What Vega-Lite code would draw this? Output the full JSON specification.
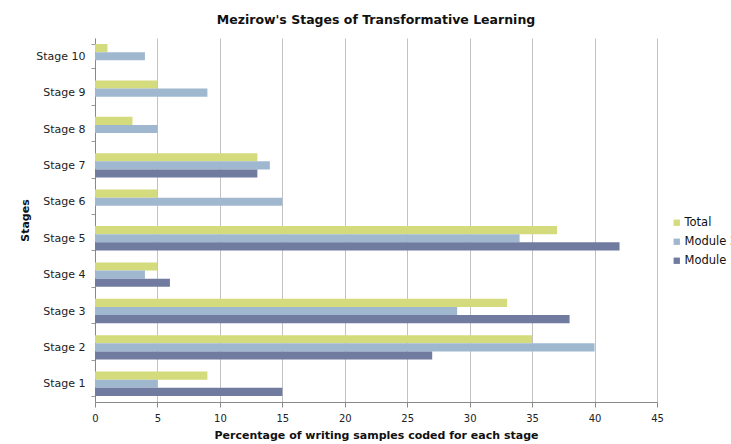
{
  "$schema": "https://vega.github.io/schema/vega-lite/v6.json",
  "width": 562,
  "height": 364,
  "autosize": {"type": "none"},
  "padding": {"left": 95, "top": 38, "right": 74, "bottom": 42},
  "background": "white",
  "title": {
    "text": "Mezirow's Stages of Transformative Learning",
    "font": "DejaVu Sans",
    "fontSize": 12.5,
    "fontWeight": "bold",
    "color": "#111111",
    "offset": 6,
    "anchor": "middle",
    "frame": "group"
  },
  "data": {
    "values": [
      {"stage": "Stage 10", "series": "Total", "value": 1},
      {"stage": "Stage 10", "series": "Module 2", "value": 4},
      {"stage": "Stage 9", "series": "Total", "value": 5},
      {"stage": "Stage 9", "series": "Module 2", "value": 9},
      {"stage": "Stage 8", "series": "Total", "value": 3},
      {"stage": "Stage 8", "series": "Module 2", "value": 5},
      {"stage": "Stage 7", "series": "Total", "value": 13},
      {"stage": "Stage 7", "series": "Module 2", "value": 14},
      {"stage": "Stage 7", "series": "Module 1", "value": 13},
      {"stage": "Stage 6", "series": "Total", "value": 5},
      {"stage": "Stage 6", "series": "Module 2", "value": 15},
      {"stage": "Stage 5", "series": "Total", "value": 37},
      {"stage": "Stage 5", "series": "Module 2", "value": 34},
      {"stage": "Stage 5", "series": "Module 1", "value": 42},
      {"stage": "Stage 4", "series": "Total", "value": 5},
      {"stage": "Stage 4", "series": "Module 2", "value": 4},
      {"stage": "Stage 4", "series": "Module 1", "value": 6},
      {"stage": "Stage 3", "series": "Total", "value": 33},
      {"stage": "Stage 3", "series": "Module 2", "value": 29},
      {"stage": "Stage 3", "series": "Module 1", "value": 38},
      {"stage": "Stage 2", "series": "Total", "value": 35},
      {"stage": "Stage 2", "series": "Module 2", "value": 40},
      {"stage": "Stage 2", "series": "Module 1", "value": 27},
      {"stage": "Stage 1", "series": "Total", "value": 9},
      {"stage": "Stage 1", "series": "Module 2", "value": 5},
      {"stage": "Stage 1", "series": "Module 1", "value": 15}
    ]
  },
  "mark": {"type": "bar"},
  "encoding": {
    "y": {
      "field": "stage",
      "type": "nominal",
      "sort": ["Stage 10", "Stage 9", "Stage 8", "Stage 7", "Stage 6", "Stage 5", "Stage 4", "Stage 3", "Stage 2", "Stage 1"],
      "scale": {"paddingInner": 0.33, "paddingOuter": 0.165},
      "axis": {
        "title": "Stages",
        "titleFont": "DejaVu Sans",
        "titleFontSize": 11,
        "titleFontWeight": "bold",
        "titleColor": "#111111",
        "titlePadding": 5,
        "labelFont": "DejaVu Sans",
        "labelFontSize": 11,
        "labelColor": "#222222",
        "labelPadding": 6,
        "tickSize": 4,
        "tickColor": "#999999",
        "tickBand": "extent",
        "domainColor": "#888888",
        "grid": false
      }
    },
    "yOffset": {
      "field": "series",
      "sort": ["Total", "Module 2", "Module 1"],
      "scale": {"paddingInner": 0, "paddingOuter": 0}
    },
    "x": {
      "field": "value",
      "type": "quantitative",
      "scale": {"domain": [0, 45], "nice": false},
      "axis": {
        "title": "Percentage of writing samples coded for each stage",
        "values": [0, 5, 10, 15, 20, 25, 30, 35, 40, 45],
        "titleFont": "DejaVu Sans",
        "titleFontSize": 11,
        "titleFontWeight": "bold",
        "titleColor": "#111111",
        "titlePadding": 6,
        "labelFont": "DejaVu Sans",
        "labelFontSize": 10,
        "labelColor": "#222222",
        "labelPadding": 6,
        "labelFlush": false,
        "tickSize": 5,
        "tickColor": "#888888",
        "domainColor": "#888888",
        "grid": true,
        "gridColor": "#c2c2c2",
        "gridWidth": 1
      }
    },
    "color": {
      "field": "series",
      "type": "nominal",
      "scale": {"domain": ["Total", "Module 2", "Module 1"], "range": ["#d4db7c", "#a0b8cf", "#717ba0"]},
      "legend": {
        "title": null,
        "orient": "none",
        "legendX": 576,
        "legendY": 179,
        "symbolType": "square",
        "symbolSize": 40,
        "symbolStrokeWidth": 0,
        "labelFont": "DejaVu Sans",
        "labelFontSize": 11.5,
        "labelColor": "#111111",
        "labelOffset": 2,
        "rowPadding": 6
      }
    }
  },
  "config": {"view": {"stroke": null}}
}
